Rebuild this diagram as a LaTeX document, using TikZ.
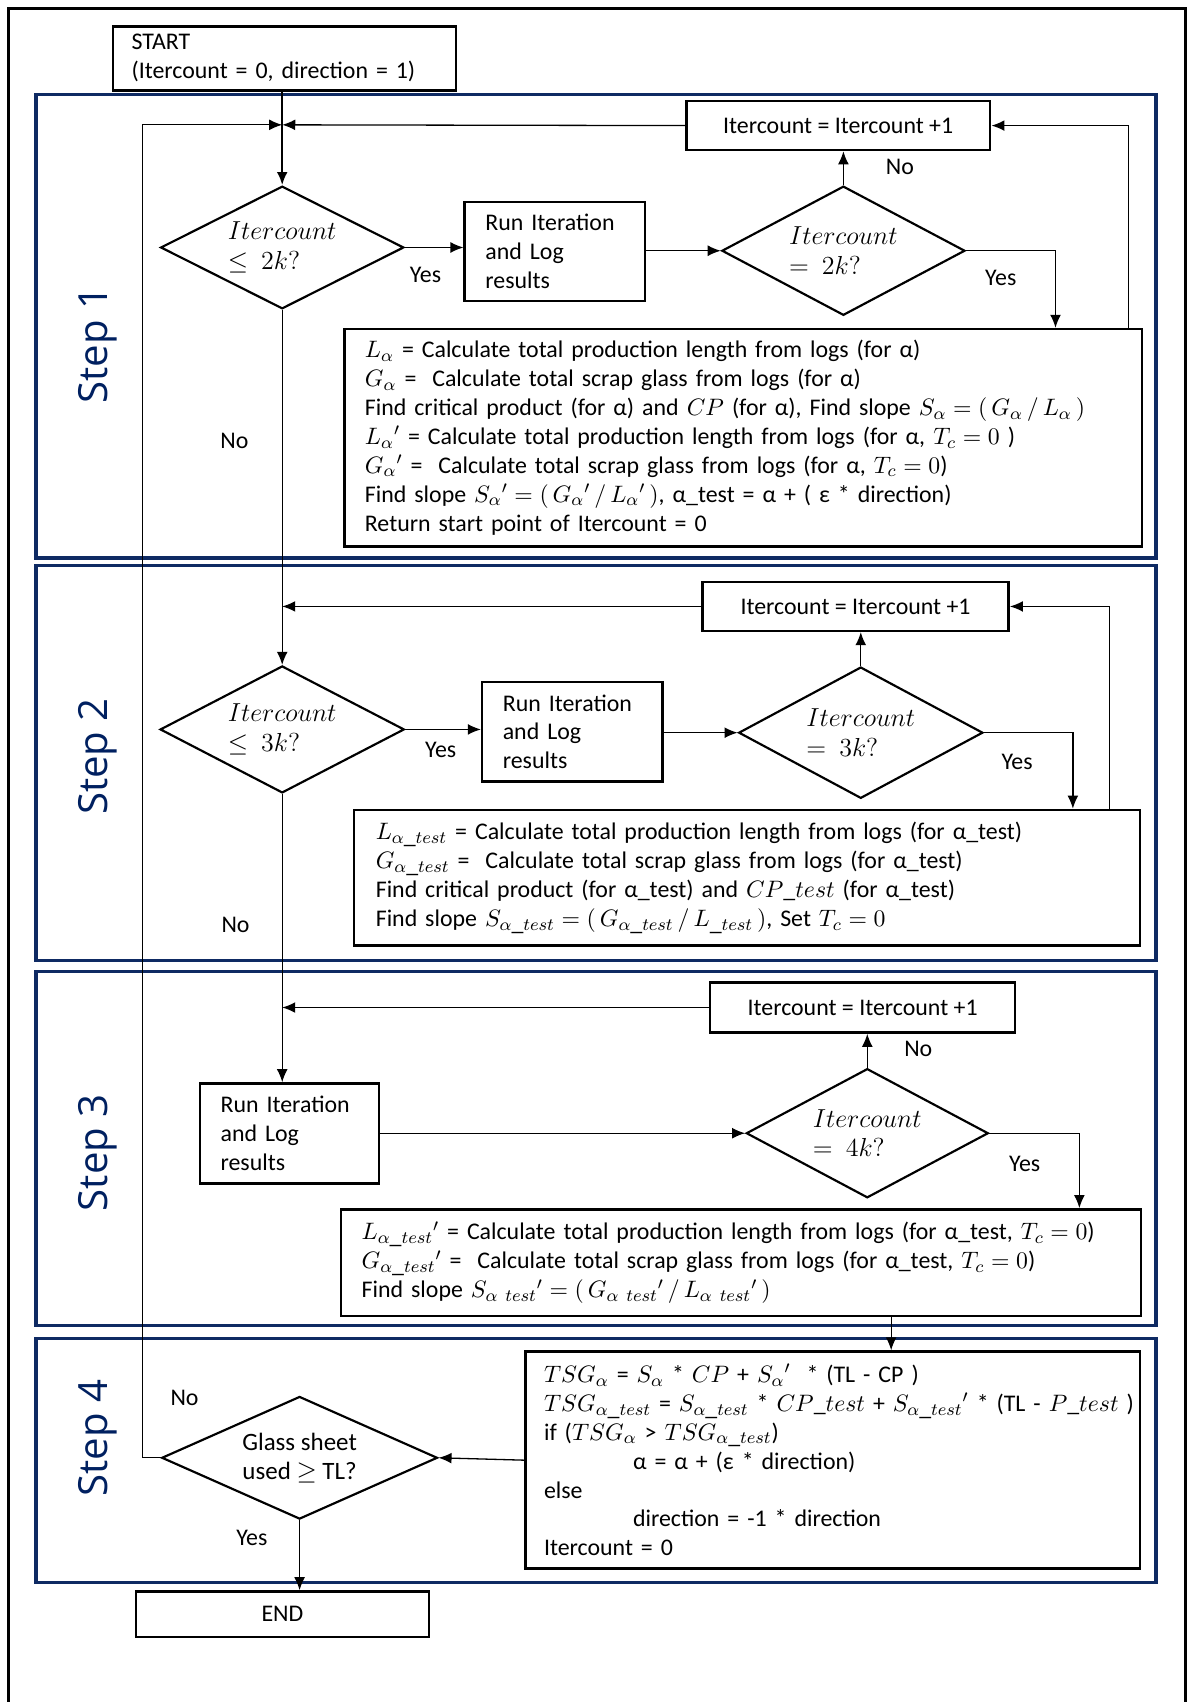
\documentclass[tikz,border=0pt]{standalone}
\usepackage{fontspec}
\setmainfont{Carlito}
\newfontfamily\stepfont{Open Sans}
\usetikzlibrary{shapes.geometric,arrows.meta}
\setlength{\lineskiplimit}{-6pt}
\definecolor{navy}{HTML}{0E2A63}
\definecolor{steptxt}{HTML}{002060}
\tikzset{
  every node/.style={font=\fontsize{11}{13.3}\selectfont},
  panel/.style={draw=navy,line width=1.6pt},
  box/.style={draw,line width=1.2pt,anchor=north west,inner ysep=0pt,align=left},
  cbox/.style={draw,line width=1.2pt,anchor=north west,inner sep=0pt,align=center},
  dia/.style={draw,diamond,line width=1pt,shape aspect=2,inner sep=0pt,align=left,
    font=\fontsize{11.8}{13.5}\selectfont},
  conn/.style={line width=0.6pt},
  arr/.style={conn,-{Latex[length=6pt,width=5pt]}},
  lbl/.style={inner sep=0pt},
  steplbl/.style={rotate=90,text=steptxt,font=\stepfont\fontsize{18.5}{20}\selectfont}
}
\begin{document}
\begin{tikzpicture}[x=0.5pt,y=-0.5pt]
\useasboundingbox (0,0) rectangle (1094,1568);
% outer frame
\draw[line width=1.5pt] (8,1568) -- (8,8) -- (1092,8) -- (1092,1568);
% step panels
\draw[panel] (33,87) rectangle (1065,514);
\draw[panel] (33,521) rectangle (1065,885);
\draw[panel] (33,895) rectangle (1065,1221);
\draw[panel] (33,1233) rectangle (1065,1458);
\node[steplbl] (s1) at (90,318) {Step 1};
\node[steplbl] (s2) at (90,697) {Step 2};
\node[steplbl] (s3) at (90,1062) {Step 3};
\node[steplbl] (s4) at (90,1325) {Step 4};

% START
\node[box,inner xsep=8.5pt,text width=141pt,minimum height=29.5pt] (start) at (103,23)
  {START\\(Itercount = 0, direction = 1)};

% ---------- Step 1
\node[dia,minimum width=112pt,minimum height=56.5pt] (d1) at (260,228)
  {$Itercount$\\$\leq\ 2k?$};
\node[box,inner xsep=9.5pt,text width=64pt,minimum height=45.5pt] (run1) at (427,185)
  {Run Iteration\\and Log\\results};
\node[dia,minimum width=112pt,minimum height=59.5pt] (d2) at (777,231)
  {$Itercount$\\$=\ 2k?$};
\node[cbox,minimum width=140pt,minimum height=22.5pt] (itc1) at (631,92)
  {Itercount = Itercount +1};
\node[box,inner xsep=9.5pt,text width=348.5pt,minimum height=100pt] (calc1) at (316,302)
  {$L_\alpha$ = Calculate total production length from logs (for α)\\
   $G_\alpha$ =\ \ Calculate total scrap glass from logs (for α)\\
   Find critical product (for α) and $CP$ (for α), Find slope $S_\alpha = (\,G_\alpha\,/\,L_\alpha\,)$\\
   $L_\alpha{}'$ = Calculate total production length from logs (for α, $T_c = 0$ )\\
   $G_\alpha{}'$ =\ \ Calculate total scrap glass from logs (for α, $T_c = 0$)\\
   Find slope $S_\alpha{}' = (\,G_\alpha{}'\,/\,L_\alpha{}'\,)$, α\_test = α + ( ε * direction)\\
   Return start point of Itercount = 0};

\coordinate (m1) at (260,115);
\coordinate (lx) at (131,115);
\draw[line width=1pt,-{Latex[length=6pt,width=5pt]}] (d1.north |- start.south) -- (d1.north);
\draw[arr] (itc1.west) -- (m1);
\draw[arr] (d1.east) -- (d1.east -| run1.west);
\draw[arr] (d2.west -| run1.east) -- (d2.west);
\draw[arr] (d2.north) -- (d2.north |- itc1.south);
\draw[arr] (d2.east) -| ([xshift=-40.5pt]calc1.north east);
\draw[arr] ([xshift=-7pt]calc1.north east) |- (itc1.east);
\node[lbl] (y1) at (392,253) {Yes};
\node[lbl] (n1) at (829,154) {No};
\node[lbl] (y2) at (922,256) {Yes};
\node[lbl] (n2) at (216,406) {No};

% ---------- Step 2
\node[cbox,minimum width=141pt,minimum height=22.5pt] (itc2) at (646,535)
  {Itercount = Itercount +1};
\node[dia,minimum width=112.5pt,minimum height=58.5pt] (d3) at (260,672)
  {$Itercount$\\$\leq\ 3k?$};
\node[box,inner xsep=9.5pt,text width=64pt,minimum height=46pt] (run2) at (443,627)
  {Run Iteration\\and Log\\results};
\node[dia,minimum width=112.5pt,minimum height=60.5pt] (d4) at (793,675)
  {$Itercount$\\$=\ 3k?$};
\node[box,inner xsep=10pt,text width=342pt,minimum height=62.5pt] (calc2) at (325,745)
  {$L_{\alpha\_test}$ = Calculate total production length from logs (for α\_test)\\
   $G_{\alpha\_test}$ =\ \ Calculate total scrap glass from logs (for α\_test)\\
   Find critical product (for α\_test) and $CP\_test$ (for α\_test)\\
   Find slope $S_{\alpha\_test} = (\,G_{\alpha\_test}\,/\,L_{\_test}\,)$, Set $T_c = 0$};

\draw[arr] (d1.south) -- (d3.north);
\draw[arr] (itc2.west) -- (itc2.west -| d3.north);
\draw[arr] (d3.east) -- (d3.east -| run2.west);
\draw[arr] (d4.west -| run2.east) -- (d4.west);
\draw[arr] (d4.north) -- (d4.north |- itc2.south);
\draw[arr] (d4.east) -| ([xshift=-31.5pt]calc2.north east);
\draw[arr] ([xshift=-14.5pt]calc2.north east) |- (itc2.east);
\node[lbl] (y3) at (406,691) {Yes};
\node[lbl] (y4) at (937,702) {Yes};
\node[lbl] (n3) at (217,852) {No};

% ---------- Step 3
\node[cbox,minimum width=140.5pt,minimum height=23pt] (itc3) at (653,904)
  {Itercount = Itercount +1};
\node[box,inner xsep=9.5pt,text width=63.5pt,minimum height=46pt] (run3) at (183,997)
  {Run Iteration\\and Log\\results};
\node[dia,minimum width=111.5pt,minimum height=59.5pt] (d5) at (799,1044)
  {$Itercount$\\$=\ 4k?$};
\node[box,inner xsep=9.5pt,text width=349.5pt,minimum height=49pt] (calc3) at (313,1113)
  {$L_{\alpha\_test}{}'$ = Calculate total production length from logs (for α\_test, $T_c = 0$)\\
   $G_{\alpha\_test}{}'$ =\ \ Calculate total scrap glass from logs (for α\_test, $T_c = 0$)\\
   Find slope $S_{\alpha\ test}{}' = (\,G_{\alpha\ test}{}'\,/\,L_{\alpha\ test}{}'\,)$};

\draw[arr] (d3.south) -- (d3.south |- run3.north);
\draw[arr] (itc3.west) -- (itc3.west -| d3.south);
\draw[arr] (d5.west -| run3.east) -- (d5.west);
\draw[arr] (d5.north) -- (d5.north |- itc3.south);
\draw[arr] (d5.east) -| ([xshift=-29pt]calc3.north east);
\node[lbl] (n4) at (846,966) {No};
\node[lbl] (y5) at (944,1072) {Yes};

% ---------- Step 4
\node[box,inner xsep=8.5pt,text width=266pt,minimum height=100pt] (calc4) at (483,1244)
  {\mbox{$TSG_\alpha$ = $S_\alpha$ * $CP$ + $S_\alpha{}'$\ \ * (TL - CP )}\\
   \mbox{$TSG_{\alpha\_test}$ = $S_{\alpha\_test}$ * $CP\_test$ + $S_{\alpha\_test}{}'$\ * (TL - $P\_test$ )}\\
   if ($TSG_\alpha$ > $TSG_{\alpha\_test}$)\\
   \hspace*{41pt}α = α + (ε * direction)\\
   else\\
   \hspace*{41pt}direction = -1 * direction\\
   Itercount = 0};
\node[dia,align=center,font=\fontsize{11.5}{13.5}\selectfont,minimum width=127pt,minimum height=56.5pt] (d6) at (276,1343)
  {Glass sheet\\used $\geq$ TL?};
\node[cbox,minimum width=135pt,minimum height=21pt] (end) at (124,1465) {END};

\coordinate (c3o) at ([xshift=254pt]calc3.south west);
\draw[arr] (c3o) -- (c3o |- calc4.north);
\draw[arr] (calc4.west) -- (d6.east);
\draw[arr] (d6.south) -- (d6.south |- end.north);
\draw[arr] (d6.west) -| (lx) -- (m1);
\node[lbl] (n5) at (170,1288) {No};
\node[lbl] (y6) at (232,1417) {Yes};
\end{tikzpicture}
\end{document}
